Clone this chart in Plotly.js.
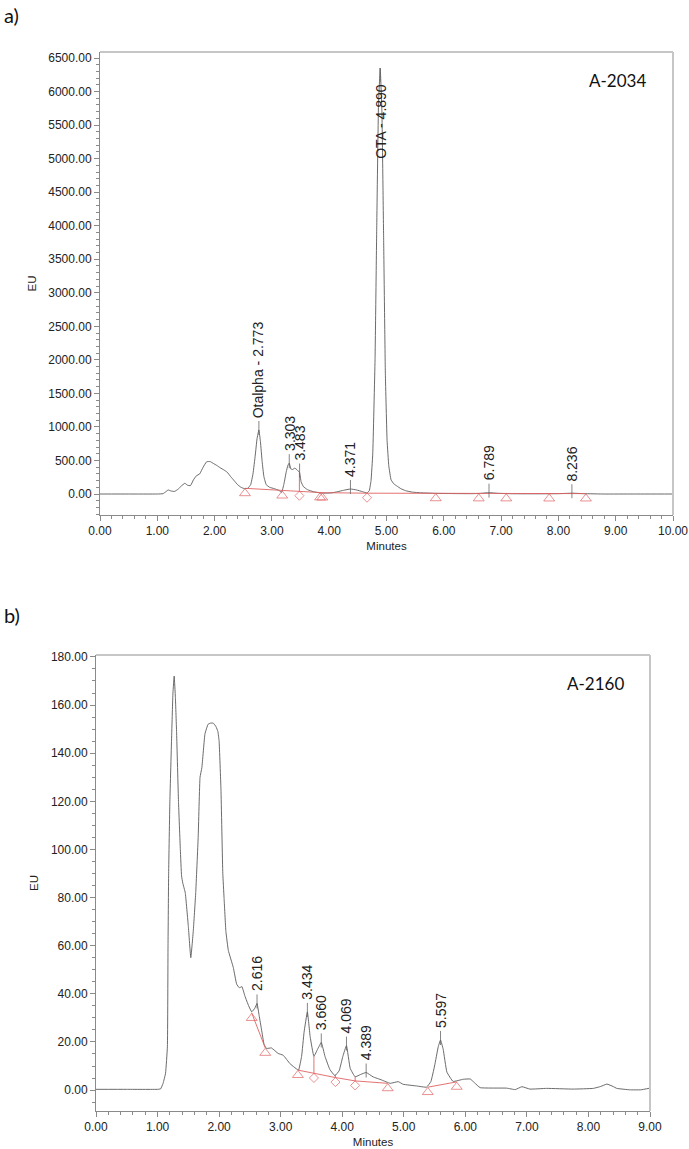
<!DOCTYPE html>
<html><head><meta charset="utf-8">
<script src="https://cdn.plot.ly/plotly-3.0.1.min.js"></script>
<style>html,body{margin:0;padding:0;background:#fff}#chart{width:689px;height:1149px}</style>
</head><body><div id="chart"></div>
<script>
// ---------------- Panel a (A-2034) ----------------
const timeA = [0, 0.5, 1.0, 1.10, 1.15, 1.19, 1.24, 1.30, 1.36, 1.42, 1.48, 1.53, 1.58, 1.63, 1.68, 1.74, 1.80, 1.86, 1.92, 1.98, 2.04, 2.10, 2.16, 2.22, 2.28, 2.34, 2.40, 2.46, 2.52, 2.58, 2.63, 2.67, 2.71, 2.74, 2.773, 2.80, 2.83, 2.86, 2.90, 2.96, 3.04, 3.12, 3.17, 3.21, 3.25, 3.28, 3.303, 3.33, 3.36, 3.40, 3.44, 3.483, 3.51, 3.55, 3.62, 3.72, 3.85, 3.95, 4.05, 4.15, 4.25, 4.371, 4.48, 4.58, 4.66, 4.70, 4.73, 4.76, 4.80, 4.83, 4.86, 4.89, 4.92, 4.95, 4.98, 5.01, 5.04, 5.08, 5.13, 5.18, 5.25, 5.33, 5.45, 5.60, 5.85, 6.20, 6.50, 6.65, 6.789, 6.95, 7.20, 7.60, 8.00, 8.236, 8.45, 8.80, 9.30, 10.0];
const signalA = [0, 0, 0, 5, 35, 60, 45, 38, 70, 120, 160, 130, 125, 210, 270, 300, 400, 480, 485, 455, 425, 390, 360, 325, 260, 200, 140, 100, 80, 85, 140, 300, 580, 820, 955, 780, 480, 260, 140, 100, 80, 55, 25, 150, 330, 430, 460, 375, 365, 385, 360, 320, 180, 110, 65, 35, 15, 12, 18, 35, 55, 75, 60, 35, 15, 50, 200, 600, 2000, 4000, 5800, 6350, 5700, 3800, 1800, 800, 420, 210, 150, 120, 80, 50, 28, 18, 10, 6, 5, 10, 20, 10, 4, 3, 5, 12, 5, 0, 0, 0];
const peakTimesA = [2.773, 3.303, 3.483, 4.371, 4.890, 6.789, 8.236];
const peakLabelsA = ['Otalpha - 2.773', '3.303', '3.483', '4.371', 'OTA - 4.890', '6.789', '8.236'];
const baseTimesA = [2.53, 3.18, 3.48, 3.84, 3.88, 4.66, 5.86, 6.61, 7.09, 7.84, 8.48];
const baseValuesA = [85, 50, 42, 22, 20, 12, 10, 8, 8, 6, 6];
const baseSymbolsA = ['triangle', 'triangle', 'diamond', 'triangle', 'triangle', 'diamond', 'triangle', 'triangle', 'triangle', 'triangle', 'triangle'];
const baseGroupA = [1, 1, 1, 1, 1, 1, 1, 1, 1, 1, 1];
const sampleA = 'A-2034';

// ---------------- Panel b (A-2160) ----------------
const timeB = [0, 0.5, 1.0, 1.05, 1.09, 1.13, 1.16, 1.17, 1.18, 1.20, 1.23, 1.25, 1.27, 1.29, 1.31, 1.34, 1.37, 1.39, 1.41, 1.45, 1.50, 1.54, 1.58, 1.62, 1.66, 1.69, 1.72, 1.77, 1.82, 1.86, 1.905, 1.95, 1.98, 2.00, 2.03, 2.06, 2.08, 2.11, 2.15, 2.23, 2.285, 2.33, 2.37, 2.42, 2.48, 2.53, 2.58, 2.616, 2.65, 2.69, 2.73, 2.77, 2.85, 2.96, 3.04, 3.15, 3.22, 3.29, 3.34, 3.38, 3.434, 3.48, 3.54, 3.60, 3.660, 3.72, 3.80, 3.88, 3.95, 4.01, 4.069, 4.13, 4.21, 4.30, 4.389, 4.50, 4.64, 4.78, 4.91, 4.99, 5.21, 5.37, 5.44, 5.50, 5.56, 5.597, 5.64, 5.70, 5.80, 5.97, 6.08, 6.15, 6.24, 6.67, 6.81, 6.92, 7.05, 7.32, 7.75, 8.08, 8.20, 8.30, 8.40, 8.46, 8.67, 8.85, 9.0];
const signalB = [0.3, 0.3, 0.3, 0.5, 2.8, 7, 18, 60, 90, 120, 148, 165, 172, 163, 148, 120, 100, 89, 86, 82, 68, 55, 66, 82, 105, 130, 134, 148, 152, 152.5, 152.5, 151, 149, 145, 125, 90, 80, 66, 58, 51, 44, 42.5, 43, 39, 35, 32.5, 34, 36, 31, 25, 19, 17.3, 17.5, 15.2, 14.5, 11, 9.5, 8.3, 14, 24, 32.5, 22, 14, 17, 19.8, 14, 8.5, 6, 8, 14, 18.5, 9, 5.5, 6.5, 7.3, 5.5, 4.2, 2.8, 3.5, 2.4, 1.7, 1.2, 3.5, 10, 18, 20.8, 17, 7.5, 3.6, 4.5, 4.6, 3, 1.0, 0.8, 0.2, 1.4, 0.4, 0.7, 0.4, 0.7, 1.5, 2.5, 1.5, 0.7, 0.1, 0.1, 0.8];
const peakTimesB = [2.616, 3.434, 3.660, 4.069, 4.389, 5.597];
const peakLabelsB = ['2.616', '3.434', '3.660', '4.069', '4.389', '5.597'];
const baseTimesB = [2.53, 2.75, 3.28, 3.54, 3.89, 4.21, 4.74, 5.39, 5.86];
const baseValuesB = [32, 17.5, 8.3, 6.9, 5.2, 3.8, 2.8, 1.2, 3.4];
const baseSymbolsB = ['triangle', 'triangle', 'triangle', 'diamond', 'diamond', 'diamond', 'triangle', 'triangle', 'triangle'];
const baseGroupB = [1, 1, 2, 2, 2, 2, 2, 3, 3];
const sampleB = 'A-2160';

// ---------------- styling / layout helpers ----------------
const W = 689, H = 1149;
const FONT = 'Liberation Sans, Arial, Helvetica, sans-serif';
const NOTE_FONT = 'Lato, Open Sans, sans-serif';
const AXIS_GRAY = '#8a8a8a';
const BORDER_GRAY = '#c6c6c6';
const TRACE_COLOR = '#5a5a5a';
const RED = '#e06262';
const pxX = v => v / W;
const pxY = v => 1 - v / H;

function interp(xs, ys, t) {
  for (let i = 0; i < xs.length - 1; i++) {
    if (t >= xs[i] && t <= xs[i + 1]) {
      const f = (t - xs[i]) / (xs[i + 1] - xs[i]);
      return ys[i] + f * (ys[i + 1] - ys[i]);
    }
  }
  return ys[ys.length - 1];
}

const traces = [], shapes = [], annotations = [];

function buildPanel(p) {
  const unitPerPx = (p.yRange[1] - p.yRange[0]) / (p.pixBottom - p.pixTop);
  traces.push({
    x: p.time, y: p.signal, xaxis: p.xa, yaxis: p.ya, type: 'scatter', mode: 'lines',
    line: { color: TRACE_COLOR, width: 0.9, shape: 'spline', smoothing: 0.3 },
    hoverinfo: 'x+y', showlegend: false
  });
  const bx = [], by = [];
  p.baseTimes.forEach((t, i) => {
    if (i > 0 && p.baseGroup[i] !== p.baseGroup[i - 1]) { bx.push(null); by.push(null); }
    bx.push(t); by.push(p.baseValues[i]);
  });
  traces.push({
    x: bx, y: by, xaxis: p.xa, yaxis: p.ya, type: 'scatter', mode: 'lines',
    line: { color: RED, width: 0.9 }, connectgaps: false, showlegend: false, hoverinfo: 'skip'
  });
  const dx = [], dy = [];
  p.baseTimes.forEach((t, i) => {
    if (p.baseSymbols[i] === 'diamond') {
      dx.push(t, t, null); dy.push(interp(p.time, p.signal, t), p.baseValues[i], null);
    }
  });
  traces.push({
    x: dx, y: dy, xaxis: p.xa, yaxis: p.ya, type: 'scatter', mode: 'lines',
    line: { color: RED, width: 0.9 }, showlegend: false, hoverinfo: 'skip'
  });
  traces.push({
    x: p.baseTimes,
    y: p.baseValues.map((v, i) => v - (p.baseSymbols[i] === 'triangle' ? 5 : 4.5) * unitPerPx),
    xaxis: p.xa, yaxis: p.ya, type: 'scatter', mode: 'markers',
    marker: {
      symbol: p.baseSymbols.map(s => s === 'triangle' ? 'triangle-up-open' : 'diamond-open'),
      size: p.baseSymbols.map(s => s === 'triangle' ? 9.5 : 7),
      color: RED, line: { color: RED, width: 1 }
    },
    showlegend: false, hoverinfo: 'skip', cliponaxis: false
  });
  p.peakTimes.forEach((t, i) => {
    const h = interp(p.time, p.signal, t);
    const inside = h > 0.8 * p.yRange[1];
    shapes.push({
      type: 'line', xref: p.xa, yref: p.ya, ysizemode: 'pixel', yanchor: h,
      x0: t, x1: t, y0: inside ? 0 : -5, y1: inside ? -14 : 9,
      line: { color: '#666', width: 0.8 }
    });
    annotations.push({
      x: t, y: h, xref: p.xa, yref: p.ya, text: p.peakLabels[i], showarrow: false,
      textangle: -90, xanchor: 'center', yanchor: inside ? 'top' : 'bottom',
      yshift: inside ? -14 : 10,
      font: { family: FONT, size: 14, color: '#222' }
    });
  });
  const xd = p.xa + ' domain', yd = p.ya + ' domain';
  shapes.push({ type: 'line', xref: xd, yref: yd, x0: 0, x1: 1, y0: 1, y1: 1, line: { color: BORDER_GRAY, width: 2 } });
  shapes.push({ type: 'line', xref: xd, yref: yd, x0: 1, x1: 1, y0: 0, y1: 1, line: { color: BORDER_GRAY, width: 2 } });
  annotations.push({
    xref: 'paper', yref: 'paper', x: pxX(p.samplePos[0]), y: pxY(p.samplePos[1]),
    text: p.sample, showarrow: false, xanchor: 'center', yanchor: 'middle',
    font: { family: NOTE_FONT, size: 17, color: '#111' }
  });
  annotations.push({
    xref: 'paper', yref: 'paper', x: pxX(2), y: pxY(p.letterY),
    text: p.letter, showarrow: false, xanchor: 'left', yanchor: 'middle',
    font: { family: NOTE_FONT, size: 20, color: '#111' }
  });
}

buildPanel({
  xa: 'x', ya: 'y', time: timeA, signal: signalA, peakTimes: peakTimesA, peakLabels: peakLabelsA,
  baseTimes: baseTimesA, baseValues: baseValuesA, baseSymbols: baseSymbolsA, baseGroup: baseGroupA,
  yRange: [-313, 6590], pixTop: 52, pixBottom: 515, sample: sampleA, samplePos: [617, 80],
  letter: 'a)', letterY: 15
});
buildPanel({
  xa: 'x2', ya: 'y2', time: timeB, signal: signalB, peakTimes: peakTimesB, peakLabels: peakLabelsB,
  baseTimes: baseTimesB, baseValues: baseValuesB, baseSymbols: baseSymbolsB, baseGroup: baseGroupB,
  yRange: [-8.7, 180.8], pixTop: 655, pixBottom: 1111, sample: sampleB, samplePos: [595, 683],
  letter: 'b)', letterY: 615
});

function axisStyle(extra) {
  return Object.assign({
    showline: true, linecolor: AXIS_GRAY, linewidth: 1, showgrid: false, zeroline: false,
    ticks: 'outside', ticklen: 5, tickwidth: 1, tickcolor: AXIS_GRAY,
    tickformat: '.2f', tickfont: { family: FONT, size: 12, color: '#222' },
    fixedrange: true
  }, extra);
}

const layout = {
  width: W, height: H,
  margin: { l: 0, r: 0, t: 0, b: 0 },
  paper_bgcolor: '#fff', plot_bgcolor: '#fff',
  showlegend: false,
  xaxis: axisStyle({
    domain: [pxX(100), pxX(673)], range: [0, 10], anchor: 'y', tick0: 0, dtick: 1,
    minor: { dtick: 0.2, ticks: 'outside', ticklen: 3, tickcolor: AXIS_GRAY },
    title: { text: 'Minutes', font: { family: FONT, size: 11.5, color: '#222' }, standoff: 4 }
  }),
  yaxis: axisStyle({
    domain: [pxY(515), pxY(52)], range: [-313, 6590], anchor: 'x', tick0: 0, dtick: 500,
    minor: { dtick: 100, ticks: 'outside', ticklen: 3, tickcolor: AXIS_GRAY },
    title: { text: 'EU', font: { family: FONT, size: 11.5, color: '#222' }, standoff: 9 }
  }),
  xaxis2: axisStyle({
    domain: [pxX(96), pxX(650)], range: [0, 9], anchor: 'y2', tick0: 0, dtick: 1,
    minor: { dtick: 0.2, ticks: 'outside', ticklen: 3, tickcolor: AXIS_GRAY },
    title: { text: 'Minutes', font: { family: FONT, size: 11.5, color: '#222' }, standoff: 4 }
  }),
  yaxis2: axisStyle({
    domain: [pxY(1111), pxY(655)], range: [-8.7, 180.8], anchor: 'x2', tick0: 0, dtick: 20,
    minor: { dtick: 5, ticks: 'outside', ticklen: 3, tickcolor: AXIS_GRAY },
    title: { text: 'EU', font: { family: FONT, size: 11.5, color: '#222' }, standoff: 9 }
  }),
  shapes: shapes,
  annotations: annotations
};

Plotly.newPlot('chart', traces, layout, { displayModeBar: false, staticPlot: true });
</script>
</body></html>
